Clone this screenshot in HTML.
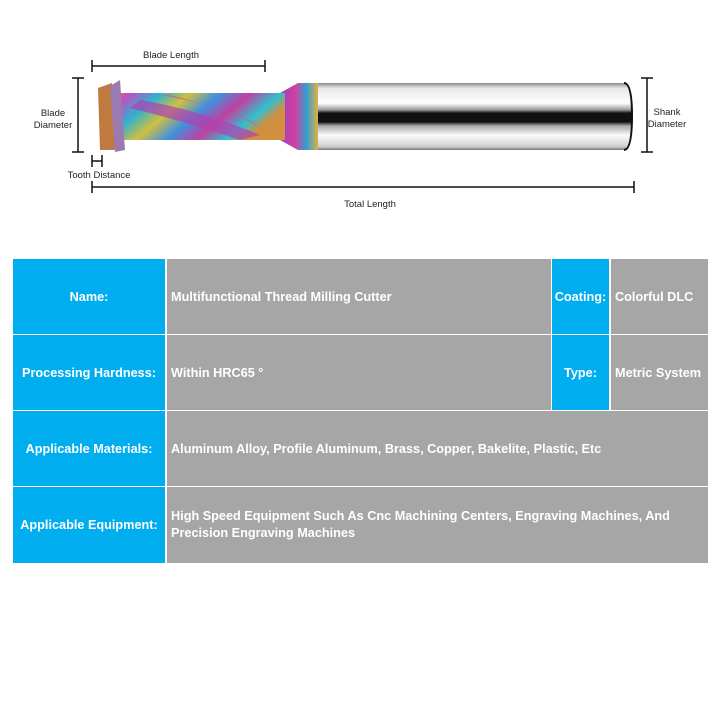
<!DOCTYPE html>
<html><head><style>
body{margin:0;width:720px;height:720px;background:#fff;position:relative;overflow:hidden;font-family:"Liberation Sans",Arial,sans-serif}
.c{position:absolute;display:flex;align-items:center;color:#fff;font-weight:bold;font-size:12.7px;box-sizing:border-box}
.b{background:#00adef;justify-content:center}
.g{background:#a6a6a6;padding-left:4px}
</style></head><body>
<svg width="720" height="230" style="position:absolute;left:0;top:0">
<defs>
<linearGradient id="sh" x1="0" y1="0" x2="0" y2="1">
<stop offset="0" stop-color="#8a8a8a"/><stop offset="0.08" stop-color="#e8e8e8"/><stop offset="0.3" stop-color="#fff"/><stop offset="0.4" stop-color="#9a9a9a"/><stop offset="0.45" stop-color="#111"/><stop offset="0.58" stop-color="#111"/><stop offset="0.64" stop-color="#aaa"/><stop offset="0.78" stop-color="#fafafa"/><stop offset="0.95" stop-color="#cfcfcf"/><stop offset="1" stop-color="#777"/>
</linearGradient>
<linearGradient id="rb" x1="0" y1="0" x2="1" y2="0.3">
<stop offset="0" stop-color="#d9a030"/><stop offset="0.15" stop-color="#c050c0"/><stop offset="0.3" stop-color="#30b0d0"/><stop offset="0.45" stop-color="#d0c040"/><stop offset="0.6" stop-color="#4090e0"/><stop offset="0.75" stop-color="#c040a0"/><stop offset="0.9" stop-color="#30c0d0"/><stop offset="1" stop-color="#d09040"/>
</linearGradient>
<linearGradient id="nk" x1="0" y1="0" x2="1" y2="0">
<stop offset="0" stop-color="#a040c0"/><stop offset="0.4" stop-color="#d040a0"/><stop offset="0.7" stop-color="#30a0d0"/><stop offset="1" stop-color="#e0b040"/>
</linearGradient>
</defs>
<path d="M318 83 H624 Q632 83 632 116 Q632 150 624 150 H318 Z" fill="url(#sh)"/>
<path d="M624 83 Q632 83 632 116 Q632 150 624 150" fill="none" stroke="#111" stroke-width="2"/>
<path d="M280 93 L298 83 H318 V150 H298 L280 140 Z" fill="url(#nk)"/>
<rect x="100" y="93" width="185" height="47" fill="url(#rb)"/>
<path d="M140 100 Q200 110 260 135 L240 140 Q180 120 130 108Z" fill="#b040b0" opacity="0.7"/>
<path d="M160 95 Q220 105 262 128 L250 120 Q200 102 170 95Z" fill="#d06080" opacity="0.7"/>
<path d="M98 88 L112 83 L115 150 L100 150 Z" fill="#c07a40"/>
<path d="M110 86 L120 80 L125 150 L115 152 Z" fill="#9a7ab0"/>
<g stroke="#111" stroke-width="1.5" fill="none">
<path d="M92 66 H265 M92 60 V72 M265 60 V72"/>
<path d="M78 78 V152 M72 78 H84 M72 152 H84"/>
<path d="M92 161 H102 M92 155 V167 M102 155 V167"/>
<path d="M92 187 H634 M92 181 V193 M634 181 V193"/>
<path d="M647 78 V152 M641 78 H653 M641 152 H653"/>
</g>
<g font-size="9.5" fill="#222" font-family="Liberation Sans,Arial,sans-serif">
<text x="171" y="58" text-anchor="middle">Blade Length</text>
<text x="53" y="116" text-anchor="middle">Blade</text>
<text x="53" y="128" text-anchor="middle">Diameter</text>
<text x="99" y="178" text-anchor="middle">Tooth Distance</text>
<text x="370" y="207" text-anchor="middle">Total Length</text>
<text x="667" y="115" text-anchor="middle">Shank</text>
<text x="667" y="127" text-anchor="middle">Diameter</text>
</g>
</svg>
<div class="c b" style="left:13px;top:259px;width:152px;height:75px">Name:</div>
<div class="c g" style="left:167px;top:259px;width:384px;height:75px">Multifunctional Thread Milling Cutter</div>
<div class="c b" style="left:552px;top:259px;width:57px;height:75px">Coating:</div>
<div class="c g" style="left:611px;top:259px;width:97px;height:75px">Colorful DLC</div>
<div class="c b" style="left:13px;top:335px;width:152px;height:75px">Processing Hardness:</div>
<div class="c g" style="left:167px;top:335px;width:384px;height:75px">Within HRC65 °</div>
<div class="c b" style="left:552px;top:335px;width:57px;height:75px">Type:</div>
<div class="c g" style="left:611px;top:335px;width:97px;height:75px">Metric System</div>
<div class="c b" style="left:13px;top:411px;width:152px;height:75px">Applicable Materials:</div>
<div class="c g" style="left:167px;top:411px;width:541px;height:75px">Aluminum Alloy, Profile Aluminum, Brass, Copper, Bakelite, Plastic, Etc</div>
<div class="c b" style="left:13px;top:487px;width:152px;height:76px">Applicable Equipment:</div>
<div class="c g" style="left:167px;top:487px;width:541px;height:76px;line-height:17px">High Speed Equipment Such As Cnc Machining Centers, Engraving Machines, And<br>Precision Engraving Machines</div>
</body></html>
